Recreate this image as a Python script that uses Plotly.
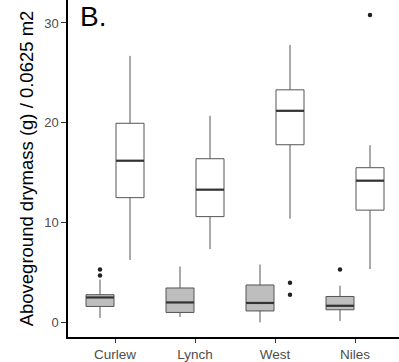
import plotly.graph_objects as go

# Sites on the x axis
sites = ["Curlew", "Lynch", "West", "Niles"]

# Low-biomass group (grey boxes): box statistics per site
low_lower = [0.45, 0.55, 0.0, 0.15]
low_q1 = [1.6, 1.0, 1.15, 1.27]
low_median = [2.5, 2.0, 1.95, 1.67]
low_q3 = [2.78, 3.45, 3.75, 2.6]
low_upper = [4.3, 5.6, 5.8, 3.68]
low_outliers = [[4.7, 5.3], [], [], [5.3]]

# High-biomass group (white boxes): box statistics per site
high_lower = [6.25, 7.35, 10.4, 5.35]
high_q1 = [12.5, 10.6, 17.8, 11.25]
high_median = [16.2, 13.3, 21.2, 14.2]
high_q3 = [19.95, 16.4, 23.3, 15.5]
high_upper = [26.7, 20.7, 27.8, 17.75]
high_outliers = [[], [], [2.78, 3.98], [30.8]]

y_ticks = [0, 10, 20, 30]

DODGE = 0.1875
BOX_W = 0.35
EDGE = "#555555"
FONT = "Liberation Sans, Arial, sans-serif"

fig = go.Figure()

groups = [
    (-DODGE, "#BEBEBE", low_lower, low_q1, low_median, low_q3, low_upper, low_outliers),
    (DODGE, "#FFFFFF", high_lower, high_q1, high_median, high_q3, high_upper, high_outliers),
]

for off, fill, lo, q1, med, q3, up, outl in groups:
    xs = [i + 1 + off for i in range(len(sites))]
    fig.add_trace(go.Box(
        x=xs, lowerfence=lo, q1=q1, median=med, q3=q3, upperfence=up,
        width=BOX_W, fillcolor=fill, whiskerwidth=0,
        line=dict(color=EDGE, width=1), boxpoints=False,
        showlegend=False, hoverinfo="skip",
    ))
    # thicker median bars
    mx, my = [], []
    for x, m in zip(xs, med):
        mx += [x - BOX_W / 2, x + BOX_W / 2, None]
        my += [m, m, None]
    fig.add_trace(go.Scatter(
        x=mx, y=my, mode="lines", line=dict(color="#333333", width=2.2),
        showlegend=False, hoverinfo="skip",
    ))
    # outlying observations
    ox, oy = [], []
    for x, pts in zip(xs, outl):
        for p in pts:
            ox.append(x)
            oy.append(p)
    fig.add_trace(go.Scatter(
        x=ox, y=oy, mode="markers",
        marker=dict(color="#222222", size=4.5),
        showlegend=False, hoverinfo="skip",
    ))

fig.add_annotation(
    text="B.", xref="paper", yref="paper", x=0.033, y=1,
    xanchor="left", yanchor="top", borderpad=0, showarrow=False,
    font=dict(family=FONT, size=28, color="black"),
)

fig.update_layout(
    width=399, height=362,
    margin=dict(l=68, r=0, t=0, b=25),
    paper_bgcolor="white", plot_bgcolor="white",
    font=dict(family=FONT),
    xaxis=dict(
        range=[0.4125, 4.55], tickmode="array",
        tickvals=[1, 2, 3, 4], ticktext=sites,
        showline=True, linecolor="black", linewidth=1.5,
        ticks="outside", ticklen=4, tickcolor="#333333", tickwidth=1,
        tickfont=dict(size=13.5, color="#4D4D4D"),
        showgrid=False, zeroline=False, fixedrange=True,
    ),
    yaxis=dict(
        range=[-1.46, 32.3], tickmode="array", tickvals=y_ticks,
        showline=True, linecolor="black", linewidth=1.5,
        ticks="outside", ticklen=5, tickcolor="#333333", tickwidth=1,
        tickfont=dict(size=13, color="#4D4D4D"),
        showgrid=False, zeroline=False, fixedrange=True,
        title=dict(text="Aboveground drymass (g) / 0.0625 m2",
                   font=dict(size=18.5, color="black"), standoff=6),
    ),
)

fig.write_html("out.html")
